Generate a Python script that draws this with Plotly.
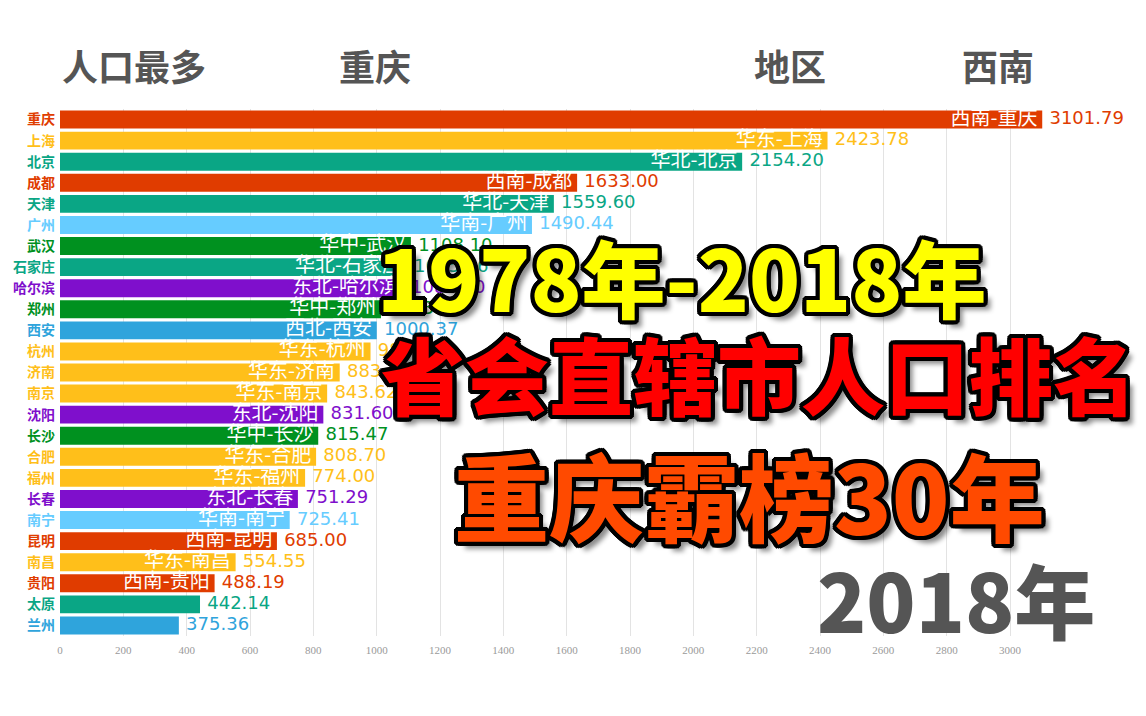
import plotly.graph_objects as go

cities = ["重庆", "上海", "北京", "成都", "天津", "广州", "武汉", "石家庄", "哈尔滨", "郑州",
          "西安", "杭州", "济南", "南京", "沈阳", "长沙", "合肥", "福州", "长春", "南宁",
          "昆明", "南昌", "贵阳", "太原", "兰州"]
regions = ["西南", "华东", "华北", "西南", "华北", "华南", "华中", "华北", "东北", "华中",
           "西北", "华东", "华东", "华东", "东北", "华中", "华东", "华东", "东北", "华南",
           "西南", "华东", "西南", "华北", "西北"]
values = [3101.79, 2423.78, 2154.20, 1633.00, 1559.60, 1490.44, 1108.10, 1095.16, 1085.80, 1013.60,
          1000.37, 980.60, 883.30, 843.62, 831.60, 815.47, 808.70, 774.00, 751.29, 725.41,
          685.00, 554.55, 488.19, 442.14, 375.36]
x_ticks = [0, 200, 400, 600, 800, 1000, 1200, 1400, 1600, 1800, 2000, 2200, 2400, 2600, 2800, 3000]

region_colors = {
    "西南": "#e03c00",
    "华东": "#ffbf1a",
    "华北": "#0aa685",
    "华南": "#66ccff",
    "华中": "#00911f",
    "东北": "#7f0fcc",
    "西北": "#2fa4dc",
}
colors = [region_colors[r] for r in regions]
inner_labels = [f"{r}-{c}" if v > 470 else "" for r, c, v in zip(regions, cities, values)]
value_labels = [f"{v:.2f}" for v in values]

FONT = "Noto Sans CJK SC"
W, H = 1146, 716
L, R, T, B = 60, 41, 109, 80
PW, PH = W - L - R, H - T - B


def px(x):
    return (x - L) / PW


def py(y):
    return (H - B - y) / PH


fig = go.Figure()
fig.add_trace(go.Bar(
    x=values, y=cities, orientation="h",
    marker=dict(color=colors, line=dict(width=0)),
    hoverinfo="skip", showlegend=False,
))
fig.add_trace(go.Scatter(
    x=values, y=cities, mode="markers+text", text=inner_labels,
    textposition="middle left",
    marker=dict(size=6, opacity=0),
    textfont=dict(family=FONT, size=20, color="white"),
    hoverinfo="skip", showlegend=False, cliponaxis=False,
))
fig.add_trace(go.Scatter(
    x=values, y=cities, mode="markers+text", text=value_labels,
    textposition="middle right",
    marker=dict(size=10, opacity=0),
    textfont=dict(family="DejaVu Sans", size=18, color=colors),
    hoverinfo="skip", showlegend=False, cliponaxis=False,
))

ticktext = [f'<span style="color:{c}"><b>{n}</b></span>' for n, c in zip(cities, colors)]

fig.update_layout(
    width=W, height=H,
    margin=dict(l=L, r=R, t=T, b=B),
    paper_bgcolor="white", plot_bgcolor="white",
    bargap=0.15,
    font=dict(family=FONT),
    xaxis=dict(range=[0, 3300], tickvals=x_ticks, showgrid=True, gridcolor="#e3e3e3",
               gridwidth=1, zeroline=False, showline=False,
               tickfont=dict(family="Liberation Sans Narrow", size=11, color="#9a9a9a"),
               ticks="", ticklen=0, ticklabelstandoff=6),
    yaxis=dict(categoryorder="array", categoryarray=cities,
               range=[len(cities) - 0.5, -0.5], autorange=False,
               tickvals=cities, ticktext=ticktext, showgrid=False, zeroline=False,
               tickfont=dict(family=FONT, size=14), ticks="", ticklabelstandoff=4),
)

outline = ("4px 0 0 #000, -4px 0 0 #000, 0 4px 0 #000, 0 -4px 0 #000, "
           "3px 3px 0 #000, -3px 3px 0 #000, 3px -3px 0 #000, -3px -3px 0 #000, "
           "2px 4px 0 #000, -2px 4px 0 #000, 4px 2px 0 #000, -4px 2px 0 #000, "
           "2px -4px 0 #000, -2px -4px 0 #000, 4px -2px 0 #000, -4px -2px 0 #000, "
           "7px 7px 5px rgba(0,0,0,0.45)")

headers = [("人口最多", 60), ("重庆", 337), ("地区", 752), ("西南", 960)]
for txt, x in headers:
    fig.add_annotation(text=f"<b>{txt}</b>", xref="paper", yref="paper",
                       x=px(x), y=py(65), xanchor="left", yanchor="middle",
                       showarrow=False,
                       font=dict(family=FONT, size=36, color="#555555"))

big = [
    ("1978年-2018年", 681, 275, 84, "#ffff00", True),
    ("省会直辖市人口排名", 759, 372, 84, "#ff0000", True),
    ("重庆霸榜30年", 749, 493, 95, "#ff4a00", True),
    ("2018年", 956, 597, 81, "#555555", False),
]
for txt, x, y, s, c, ol in big:
    fig.add_annotation(text=txt, xref="paper", yref="paper",
                       x=px(x), y=py(y), xanchor="center", yanchor="middle",
                       showarrow=False,
                       font=dict(family=FONT, size=s, color=c, weight=900,
                                 shadow=outline if ol else "none"))

fig.write_html("out.html")
